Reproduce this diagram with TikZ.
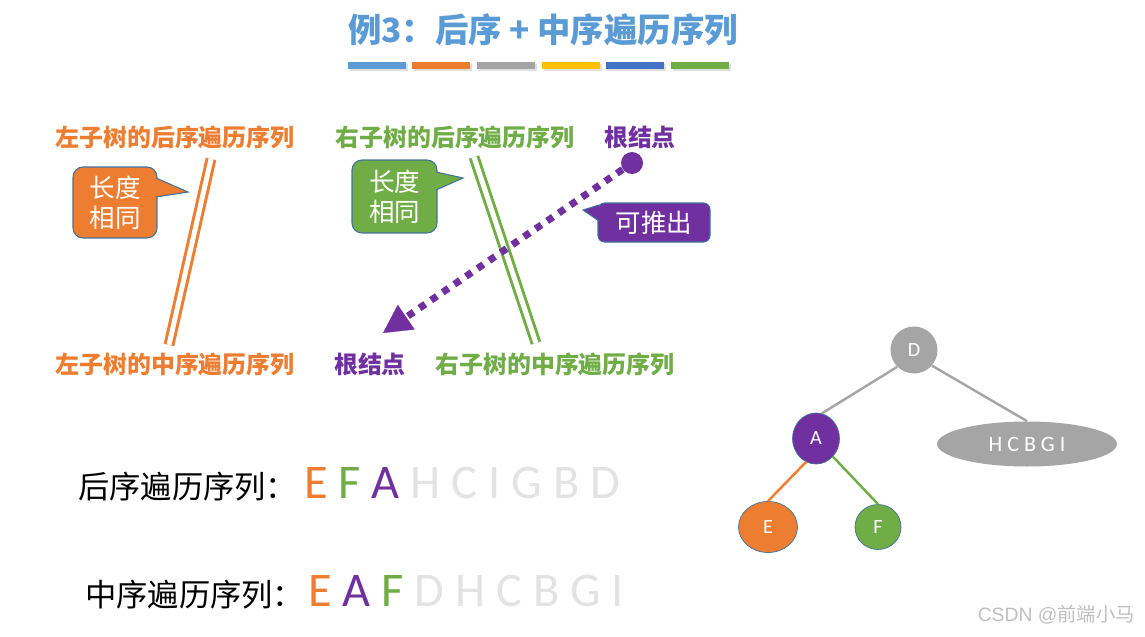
\documentclass[tikz,border=0pt]{standalone}
\usepackage{fontspec}
\setmainfont{Carlito}
\newfontfamily\cjk{Noto Sans CJK SC}
\newfontfamily\wmfont{Liberation Sans}
\usetikzlibrary{shapes.geometric}
\usetikzlibrary{arrows.meta}
\usetikzlibrary{positioning}
\tikzset{>=latex}
\definecolor{tblue}{HTML}{5B9BD5}
\definecolor{torange}{HTML}{ED7D31}
\definecolor{tgray}{HTML}{A5A5A5}
\definecolor{tgold}{HTML}{FFC000}
\definecolor{tdblue}{HTML}{4472C4}
\definecolor{tgreen}{HTML}{70AD47}
\definecolor{tpurple}{HTML}{7030A0}
\definecolor{tborder}{HTML}{41719C}
\definecolor{tfaint}{HTML}{E3E3E3}
\tikzstyle{seqlabel} = [font=\cjk\bfseries\fontsize{13.6}{16}\selectfont, inner sep=0pt]
\tikzstyle{twin} = [line width=1.7pt, double=white, double distance=2.8pt]
\tikzstyle{callout} = [rounded corners=0.2cm, draw=tborder, line width=0.6pt, text=white, align=center, font=\cjk\fontsize{14.5}{17}\selectfont]
\tikzstyle{pointer} = [draw=tborder, line width=0.6pt]
\tikzstyle{treenode} = [ellipse, inner sep=0pt, text=white, font=\fontsize{11.5}{13}\selectfont]
\tikzstyle{branch} = [line width=1.4pt]
\tikzstyle{seqline} = [font=\cjk\fontsize{17.8}{20}\selectfont, inner sep=0pt, anchor=base west]
\tikzstyle{letters} = [font=\fontsize{27.5}{30}\selectfont, inner sep=0pt, anchor=base west]

\begin{document}
\begin{tikzpicture}[x=0.02cm, y=-0.02cm]
    \useasboundingbox (0,0) rectangle (1145,636);

    % title and colour bars
    \node[font=\cjk\bfseries\fontsize{19}{22}\selectfont, text=tblue] (title) at (543,30) {例3：后序 + 中序遍历序列};
    \fill[black!12] (350,64) rectangle (408,71);
    \fill[black!12] (414,64) rectangle (472,71);
    \fill[black!12] (479,64) rectangle (537,71);
    \fill[black!12] (544,64) rectangle (602,71);
    \fill[black!12] (608,64) rectangle (666,71);
    \fill[black!12] (673,64) rectangle (731,71);
    \fill[tblue] (348,62) rectangle (406,69);
    \fill[torange] (412,62) rectangle (470,69);
    \fill[tgray] (477,62) rectangle (535,69);
    \fill[tgold] (542,62) rectangle (600,69);
    \fill[tdblue] (606,62) rectangle (664,69);
    \fill[tgreen] (671,62) rectangle (729,69);

    % sequence labels
    \node[seqlabel, text=torange] (lpost) at (175,137) {左子树的后序遍历序列};
    \node[seqlabel, text=tgreen] (rpost) at (455,137) {右子树的后序遍历序列};
    \node[seqlabel, text=tpurple] (rootpost) at (640,137) {根结点};
    \node[seqlabel, text=torange] (lin) at (175,364) {左子树的中序遍历序列};
    \node[seqlabel, text=tpurple] (rootin) at (370,364) {根结点};
    \node[seqlabel, text=tgreen] (rin) at (555,364) {右子树的中序遍历序列};

    % matching parts
    \coordinate (ltop) at (211,159);
    \coordinate (lbot) at (169,345);
    \draw[twin, draw=torange] (ltop) -- (lbot);
    \coordinate (rtop) at (474,157);
    \coordinate (rbot) at (536,343);
    \draw[twin, draw=tgreen] (rtop) -- (rbot);

    % callouts
    \node[callout, fill=torange, minimum width=1.68cm, minimum height=1.42cm] (lsame) at (115,202.5) {长度\\相同};
    \fill[torange] (156,178) -- (188,192) -- (156,197) -- cycle;
    \draw[pointer] (156,178) -- (188,192) -- (156,197);

    \node[callout, fill=tgreen, minimum width=1.7cm, minimum height=1.46cm] (rsame) at (394.5,196.5) {长度\\相同};
    \fill[tgreen] (436,172) -- (463,178) -- (436,190) -- cycle;
    \draw[pointer] (436,172) -- (463,178) -- (436,190);

    % root
    \node[circle, fill=tpurple, minimum size=0.44cm, inner sep=0pt] (rootdot) at (632,163) {};
    \coordinate (rootend) at (383,333);
    \draw[tpurple, line width=4pt, dash pattern=on 4pt off 4pt, -{Triangle[length=16pt,width=17pt,line width=0.1pt]}] (rootdot) -- (rootend);

    \node[callout, fill=tpurple, rounded corners=0.13cm, minimum width=2.24cm, minimum height=0.78cm] (derive) at (654,222.5) {可推出};
    \fill[tpurple] (599,205) -- (583,210) -- (599,221) -- cycle;
    \draw[pointer] (599,205) -- (583,210) -- (599,221);

    % tree
    \node[treenode, circle, fill=tgray, minimum size=0.94cm] (D) at (914,350) {D};
    \node[treenode, fill=tpurple, draw=tborder, minimum width=0.94cm, minimum height=1.02cm] (A) at (816,438.5) {A};
    \node[treenode, fill=torange, draw=tborder, minimum width=1.18cm, minimum height=1.02cm] (E) at (768,527) {E};
    \node[treenode, fill=tgreen, draw=tborder, minimum width=0.92cm, minimum height=0.9cm] (F) at (878,527) {F};
    \node[treenode, fill=tgray, minimum width=3.6cm, minimum height=0.9cm, font=\fontsize{12.5}{14}\selectfont] (rest) at (1027,444) {H C B G I};
    \draw[branch, tgray] (D.225) -- (A.77);
    \draw[branch, tgray] (D.319) -- (rest.north);
    \draw[branch, torange] (A.247) -- (E.north);
    \draw[branch, tgreen] (A.313) -- (F.north);

    % the two sequences
    \node[seqline] (postlabel) at (78,498) {后序遍历序列：};
    \node[letters] (postseq) at (304,498) {\textcolor{torange}{E} \textcolor{tgreen}{F} \textcolor{tpurple}{A} \textcolor{tfaint}{H C I G B D}};
    \node[seqline] (inlabel) at (85,606) {中序遍历序列：};
    \node[letters] (inseq) at (308,606) {\textcolor{torange}{E} \textcolor{tpurple}{A} \textcolor{tgreen}{F} \textcolor{tfaint}{D H C B G I}};

    \node[font=\wmfont\fontsize{11}{13}\selectfont, text=black!25, anchor=east] (mark) at (1141,615) {CSDN @{\cjk 前端小马}};
\end{tikzpicture}
\end{document}
